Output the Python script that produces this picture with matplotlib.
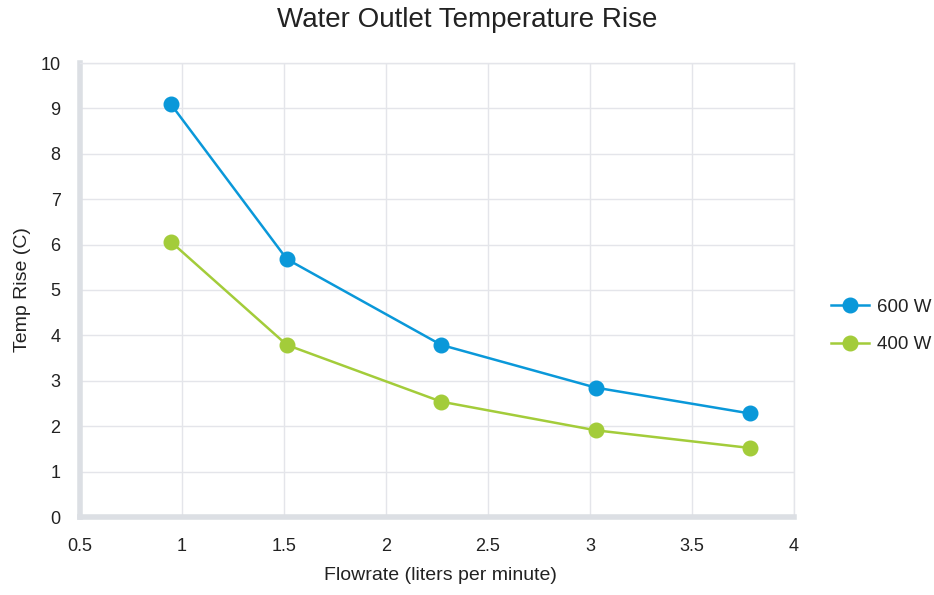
import matplotlib
matplotlib.use("Agg")
from matplotlib import pyplot as plt

plt.rcParams["font.family"] = ["Liberation Sans", "DejaVu Sans"]

# flowrate (liters per minute)
flowrate = [0.946, 1.514, 2.271, 3.028, 3.785]
rise_600w = [9.09, 5.68, 3.79, 2.85, 2.28]
rise_400w = [6.06, 3.79, 2.54, 1.91, 1.52]

x_ticks = [0.5, 1, 1.5, 2, 2.5, 3, 3.5, 4]
x_tick_labels = ["0.5", "1", "1.5", "2", "2.5", "3", "3.5", "4"]
y_ticks = list(range(0, 11))

BLUE = "#0a98d9"
GREEN = "#a3cc3a"
GRID = "#e4e5ea"
AXIS = "#dcdfe4"
TEXT = "#222222"

W, H = 934, 595
fig = plt.figure(figsize=(W / 100, H / 100), dpi=100)
ax = fig.add_axes([80 / W, 1 - 517 / H, (794 - 80) / W, (517 - 63) / H])

ax.plot(flowrate, rise_600w, color=BLUE, linewidth=1.8, marker="o",
        markersize=10.5, label="600 W", zorder=3, clip_on=False)
ax.plot(flowrate, rise_400w, color=GREEN, linewidth=1.8, marker="o",
        markersize=10.5, label="400 W", zorder=3, clip_on=False)

ax.set_xlim(0.5, 4)
ax.set_ylim(0, 10)
ax.set_xticks(x_ticks)
ax.set_xticklabels(x_tick_labels)
ax.set_yticks(y_ticks)
ax.grid(True, color=GRID, linewidth=1)
ax.set_axisbelow(True)

for side in ("top", "right"):
    ax.spines[side].set_color(GRID)
    ax.spines[side].set_linewidth(1)
for side in ("left", "bottom"):
    ax.spines[side].set_color(AXIS)
    ax.spines[side].set_linewidth(4)

ax.tick_params(length=0, labelsize=13, colors=TEXT)
ax.tick_params(axis="x", pad=15)
ax.tick_params(axis="y", pad=14)

ax.set_xlabel("Flowrate (liters per minute)", fontsize=14, color=TEXT)
ax.set_ylabel("Temp Rise (C)", fontsize=14, color=TEXT)
ax.xaxis.set_label_coords((440 - 80) / 714, (517 - 567) / 454)
ax.yaxis.set_label_coords((31 - 80) / 714, 0.5)
fig.text(467 / W, 1 - 20 / H, "Water Outlet Temperature Rise",
         ha="center", va="center", fontsize=20, color=TEXT)

ax.legend(loc="center left", bbox_to_anchor=((831 - 80) / 714, (517 - 326) / 454),
          frameon=False, fontsize=13.5, handlelength=2.0, labelspacing=1.1,
          handletextpad=0.45, borderpad=0, borderaxespad=0, labelcolor=TEXT)

plt.savefig("out.png", dpi=100)
plt.close("all")
